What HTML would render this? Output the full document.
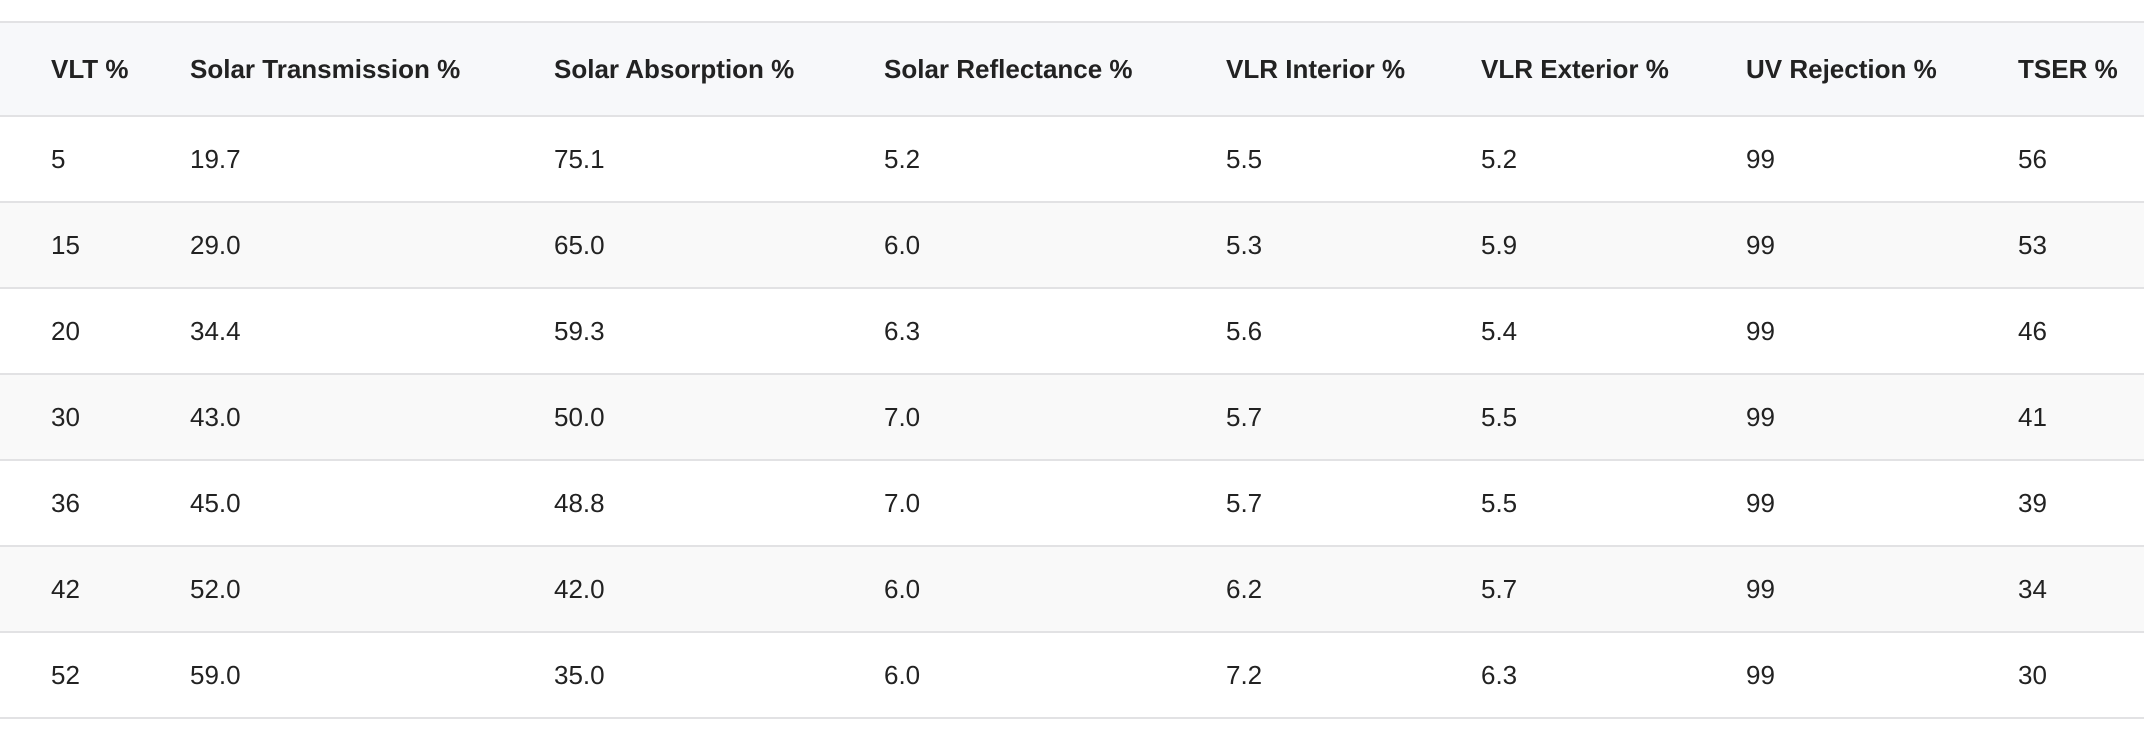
<!DOCTYPE html>
<html>
<head>
<meta charset="utf-8">
<style>
  html,body{margin:0;padding:0;background:#fff;width:2144px;height:740px;overflow:hidden;}
  body{font-family:"Liberation Sans",sans-serif;color:#222;position:relative;}
  .row{position:absolute;left:0;width:2144px;border-bottom:2px solid #e2e2e4;box-sizing:border-box;}
  .hdr{top:21px;height:96px;background:#f7f8fa;border-top:2px solid #e2e2e4;}
  .cell{position:absolute;top:0;bottom:0;display:flex;align-items:center;font-size:26px;white-space:nowrap;}
  .hdr .cell{font-weight:bold;letter-spacing:0px;}
  .alt{background:#f9f9f9;}
</style>
</head>
<body>
<div id="table"></div>
<script>
const headers = ["VLT %","Solar Transmission %","Solar Absorption %","Solar Reflectance %","VLR Interior %","VLR Exterior %","UV Rejection %","TSER %"];
const vlt = ["5","15","20","30","36","42","52"];
const solarTrans = ["19.7","29.0","34.4","43.0","45.0","52.0","59.0"];
const solarAbs = ["75.1","65.0","59.3","50.0","48.8","42.0","35.0"];
const solarRefl = ["5.2","6.0","6.3","7.0","7.0","6.0","6.0"];
const vlrInt = ["5.5","5.3","5.6","5.7","5.7","6.2","7.2"];
const vlrExt = ["5.2","5.9","5.4","5.5","5.5","5.7","6.3"];
const uvRej = ["99","99","99","99","99","99","99"];
const tser = ["56","53","46","41","39","34","30"];
const colX = [51,190,554,884,1226,1481,1746,2018];
const cols = [vlt,solarTrans,solarAbs,solarRefl,vlrInt,vlrExt,uvRej,tser];
const colNames = ["vlt","solar-transmission","solar-absorption","solar-reflectance","vlr-interior","vlr-exterior","uv-rejection","tser"];
const table = document.getElementById('table');
const hdr = document.createElement('div');
hdr.className = 'row hdr';


headers.forEach((h,i)=>{
  const c = document.createElement('div');
  c.className = 'cell';
  c.style.left = colX[i] + 'px';
  c.textContent = h;
  
  
  hdr.appendChild(c);
});
table.appendChild(hdr);
for (let r = 0; r < vlt.length; r++) {
  const row = document.createElement('div');
  row.className = 'row' + (r % 2 === 1 ? ' alt' : '');
  row.style.top = (117 + r * 86) + 'px';
  row.style.height = '86px';
  
  
  cols.forEach((arr,i)=>{
    const c = document.createElement('div');
    c.className = 'cell';
    c.style.left = colX[i] + 'px';
    c.textContent = arr[r];
    
    
    row.appendChild(c);
  });
  table.appendChild(row);
}
</script>
</body>
</html>
